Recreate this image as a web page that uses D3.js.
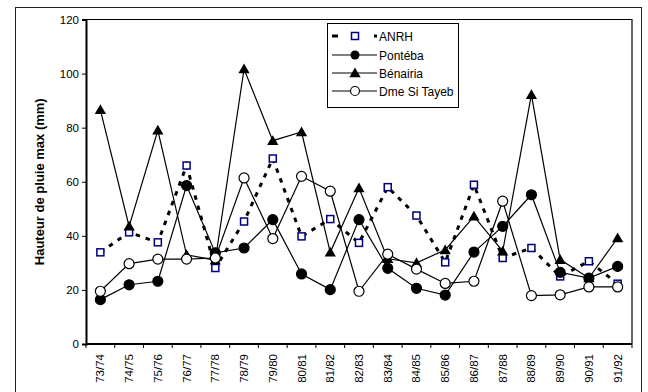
<!DOCTYPE html>
<html>
<head>
<meta charset="utf-8">
<script src="https://cdn.jsdelivr.net/npm/d3@7"></script>
<style>
  html, body { margin: 0; padding: 0; background: #fff; }
  svg { display: block; font-family: "Liberation Sans", Arial, sans-serif; }
</style>
</head>
<body>
<svg id="chart" width="648" height="392"></svg>
<script>
// Hydrological years
const years = ["73/74","74/75","75/76","76/77","77/78","78/79","79/80","80/81","81/82","82/83",
               "83/84","84/85","85/86","86/87","87/88","88/89","89/90","90/91","91/92"];

// Maximum daily rainfall (mm) per station
const anrh     = [33.9, 41.3, 37.6, 66.0, 28.1, 45.3, 68.6, 39.8, 46.2, 37.4, 58.0, 47.5, 30.2, 58.9, 31.8, 35.5, 25.0, 30.6, 22.3];
const ponteba  = [16.4, 21.9, 23.2, 58.6, 33.7, 35.5, 46.0, 25.9, 20.1, 46.0, 28.0, 20.6, 18.1, 34.0, 43.5, 55.2, 26.5, 24.4, 28.7];
const benairia = [86.6, 43.5, 79.0, 33.0, 31.0, 101.7, 75.2, 78.4, 33.9, 57.7, 31.5, 30.0, 34.8, 47.2, 34.3, 92.2, 31.2, 24.4, 39.2];
const siTayeb  = [19.5, 29.7, 31.4, 31.4, 31.8, 61.4, 39.0, 62.0, 56.5, 19.5, 33.2, 27.7, 22.4, 23.2, 52.8, 17.9, 18.2, 21.1, 21.1];

const yTicks = [0, 20, 40, 60, 80, 100, 120];
const seriesNames = ["ANRH", "Pontéba", "Bénairia", "Dme Si Tayeb"];

const svg = d3.select("#chart");

// Outer frame
svg.append("rect")
  .attr("x", 15.5).attr("y", 7.5).attr("width", 626).attr("height", 400)
  .attr("fill", "none").attr("stroke", "#222").attr("stroke-width", 1);

const pLeft = 86, pRight = 632, pTop = 19.5, pBottom = 344;

const x = d3.scaleBand().domain(years).range([pLeft, pRight]);
const y = d3.scaleLinear().domain([0, 120]).range([pBottom, pTop]);
const cx = d => x(d) + x.bandwidth() / 2;

// Plot area frame (top and right)
svg.append("path")
  .attr("d", `M${pLeft},${pTop}H${pRight}V${pBottom}`)
  .attr("fill", "none").attr("stroke", "#000").attr("stroke-width", 1.2);

// Y axis
const yAxis = svg.append("g")
  .attr("transform", `translate(${pLeft},0)`)
  .call(d3.axisLeft(y).tickValues(yTicks).tickSize(4).tickPadding(3));
yAxis.select(".domain").attr("stroke-width", 2);
yAxis.selectAll("text").attr("font-size", 11.5).attr("fill", "#000")
  .attr("font-family", "Liberation Sans, Arial, sans-serif");

// X axis: ticks at category boundaries, labels rotated
const xAxis = svg.append("g").attr("transform", `translate(0,${pBottom})`);
xAxis.append("line").attr("x1", pLeft).attr("x2", pRight).attr("y1", 0).attr("y2", 0)
  .attr("stroke", "#000").attr("stroke-width", 2);
const bounds = years.map(d => x(d)).concat([pRight]);
xAxis.selectAll("line.tick").data(bounds).enter().append("line")
  .attr("class", "tick")
  .attr("x1", d => d).attr("x2", d => d).attr("y1", 0).attr("y2", 4)
  .attr("stroke", "#000").attr("stroke-width", 1);
xAxis.selectAll("text").data(years).enter().append("text")
  .attr("transform", d => `translate(${cx(d) + 4},10) rotate(-90)`)
  .attr("text-anchor", "end")
  .attr("font-size", 11.5)
  .text(d => d);

// Y axis title
svg.append("text")
  .attr("transform", `translate(44,${(pTop + pBottom) / 2}) rotate(-90)`)
  .attr("text-anchor", "middle")
  .attr("font-size", 13).attr("font-weight", "bold")
  .text("Hauteur de pluie max (mm)");

const line = d3.line().x((d, i) => cx(years[i])).y(d => y(d));

// ANRH: thick dashed line with navy open squares
svg.append("path").datum(anrh)
  .attr("d", line).attr("fill", "none")
  .attr("stroke", "#000").attr("stroke-width", 3).attr("stroke-dasharray", "4.5,6");

function drawSolid(data) {
  svg.append("path").datum(data)
    .attr("d", line).attr("fill", "none")
    .attr("stroke", "#000").attr("stroke-width", 1.2);
}
drawSolid(ponteba);
drawSolid(benairia);
drawSolid(siTayeb);

const sq = 7, tri = d3.symbol().type(d3.symbolTriangle).size(55);

function squares(g, data) {
  g.selectAll(null).data(data).enter().append("rect")
    .attr("x", (d, i) => cx(years[i]) - sq / 2).attr("y", d => y(d) - sq / 2)
    .attr("width", sq).attr("height", sq)
    .attr("fill", "#fff").attr("stroke", "#000080").attr("stroke-width", 1.5);
}
function circles(g, data, fill) {
  g.selectAll(null).data(data).enter().append("circle")
    .attr("cx", (d, i) => cx(years[i])).attr("cy", d => y(d)).attr("r", 5)
    .attr("fill", fill).attr("stroke", "#000").attr("stroke-width", 1.2);
}
function triangles(g, data) {
  g.selectAll(null).data(data).enter().append("path")
    .attr("d", tri)
    .attr("transform", (d, i) => `translate(${cx(years[i])},${y(d) + 1})`)
    .attr("fill", "#000");
}

const marks = svg.append("g");
squares(marks, anrh);
circles(marks, ponteba, "#000");
triangles(marks, benairia);
circles(marks, siTayeb, "#fff");

// Legend
const lg = svg.append("g");
lg.append("rect").attr("x", 327.5).attr("y", 23.5).attr("width", 131).attr("height", 84)
  .attr("fill", "#fff").attr("stroke", "#000").attr("stroke-width", 1);
const rowsY = [36, 55, 73, 91];
const lx1 = 332, lx2 = 377, lm = 355;

lg.append("line").attr("x1", lx1).attr("x2", lx2).attr("y1", rowsY[0]).attr("y2", rowsY[0])
  .attr("stroke", "#000").attr("stroke-width", 3).attr("stroke-dasharray", "6,15");
lg.append("rect").attr("x", lm - sq / 2).attr("y", rowsY[0] - sq / 2).attr("width", sq).attr("height", sq)
  .attr("fill", "#fff").attr("stroke", "#000080").attr("stroke-width", 1.5);

[1, 2, 3].forEach(i => {
  lg.append("line").attr("x1", lx1).attr("x2", lx2).attr("y1", rowsY[i]).attr("y2", rowsY[i])
    .attr("stroke", "#000").attr("stroke-width", 1.2);
});
lg.append("circle").attr("cx", lm).attr("cy", rowsY[1]).attr("r", 4.5).attr("fill", "#000");
lg.append("path").attr("d", tri).attr("transform", `translate(${lm},${rowsY[2] + 1})`).attr("fill", "#000");
lg.append("circle").attr("cx", lm).attr("cy", rowsY[3]).attr("r", 4.5).attr("fill", "#fff")
  .attr("stroke", "#000").attr("stroke-width", 1.2);

lg.selectAll("text.lab").data(seriesNames).enter().append("text")
  .attr("class", "lab")
  .attr("x", 379).attr("y", (d, i) => rowsY[i] + 4.5)
  .attr("font-size", 12)
  .text(d => d);
</script>
</body>
</html>
